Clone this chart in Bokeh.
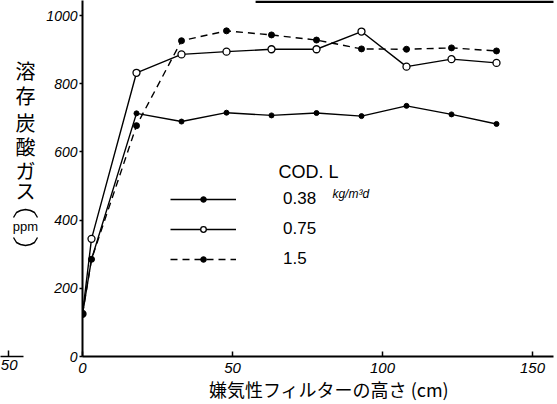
from bokeh.plotting import figure
from bokeh.layouts import row
from bokeh.models import Range1d, Legend, LegendItem, Label, FixedTicker, BoxAnnotation
from bokeh.core.properties import value
from bokeh.embed import file_html
from bokeh.resources import INLINE

# Data (height of anaerobic filter in cm, dissolved CO2 in ppm)
heights = [0, 3, 18, 33, 48, 63, 78, 93, 108, 123, 138]
cod_038 = [125, 285, 713, 689, 715, 707, 714, 705, 735, 710, 682]
cod_075 = [125, 345, 832, 886, 894, 901, 901, 953, 850, 872, 861]
cod_15 = [125, 285, 677, 926, 955, 943, 928, 902, 901, 905, 896]
series_labels = ["0.38", "0.75", "1.5"]
x_ticks = [0, 50, 100, 150]
y_ticks = [0, 200, 400, 600, 800, 1000]
y_title_chars = ["溶", "存", "炭", "酸", "ガ", "ス"]
y_title_unit = "ppm"

TICK_FONT = "Liberation Sans"
CJK_FONT = "Noto Sans CJK JP"

# ---- narrow left panel: stacked y-axis title and the edge of the neighbouring chart
side = figure(width=42, height=404, output_backend="svg", toolbar_location=None,
              x_range=Range1d(0, 42), y_range=Range1d(356, 0), y_axis_type=None,
              min_border_left=0, min_border_right=0, min_border_top=0, min_border_bottom=48)
side.outline_line_color = None
side.grid.visible = False
side.background_fill_color = "white"
side.border_fill_color = "white"
sax = side.xaxis[0]
sax.ticker = FixedTicker(ticks=[8])
sax.major_label_overrides = {8: "50"}
sax.bounds = (0, 23)
sax.axis_line_width = 1.5
sax.axis_line_color = "black"
sax.major_tick_in = 6
sax.major_tick_out = 0
sax.major_tick_line_width = 1.5
sax.minor_tick_line_color = None
sax.major_label_standoff = 3
sax.major_label_text_font = TICK_FONT
sax.major_label_text_font_style = "italic"
sax.major_label_text_font_size = "15px"
sax.major_label_text_color = "black"

title_y = [70, 95, 122, 146, 170, 190]
side.text(x=[25] * len(y_title_chars), y=title_y, text=y_title_chars,
          text_font=value(CJK_FONT), text_font_size=value("20px"),
          text_align="center", text_baseline="middle", text_color="black")
side.text(x=[25], y=[226], text=[y_title_unit],
          text_font=value(TICK_FONT), text_font_size=value("13px"),
          text_align="center", text_baseline="middle", text_color="black")
# vertical-writing brackets drawn as arcs above and below "ppm"
side.line(x=[13, 16, 20, 25, 30, 34, 37], y=[217, 212, 210, 209, 210, 212, 217],
          line_color="black", line_width=1.4)
side.line(x=[13, 16, 20, 25, 30, 34, 37], y=[237, 242, 244, 245, 244, 242, 237],
          line_color="black", line_width=1.4)

# ---- main chart
p = figure(width=515, height=404, output_backend="svg", toolbar_location=None,
           x_range=Range1d(0, 157), y_range=Range1d(0, 1044),
           min_border_left=40, min_border_right=4, min_border_top=0, min_border_bottom=48)
p.outline_line_color = None
p.grid.visible = False
p.background_fill_color = "white"
p.border_fill_color = "white"

for ax in (p.xaxis[0], p.yaxis[0]):
    ax.axis_line_width = 2
    ax.axis_line_color = "black"
    ax.major_tick_line_color = "black"
    ax.major_tick_line_width = 1.5
    ax.minor_tick_line_color = None
    ax.major_label_text_font = TICK_FONT
    ax.major_label_text_font_style = "italic"
    ax.major_label_text_font_size = "14px"
    ax.major_label_text_color = "black"

p.xaxis.ticker = FixedTicker(ticks=x_ticks)
p.yaxis.ticker = FixedTicker(ticks=y_ticks)
p.xaxis.major_label_text_font_size = "15px"
p.xaxis.major_tick_in = 5
p.xaxis.major_tick_out = 0
p.yaxis.major_tick_in = 0
p.yaxis.major_tick_out = 3
p.xaxis.major_label_standoff = 6
p.yaxis.major_label_standoff = 2

p.xaxis.axis_label = "\u3000 嫌気性フィルターの高さ (cm)"
p.xaxis.axis_label_text_font = CJK_FONT
p.xaxis.axis_label_text_font_style = "normal"
p.xaxis.axis_label_text_font_size = "18px"
p.xaxis.axis_label_standoff = 0
p.xaxis.axis_label_text_color = "black"

r1l = p.line(heights, cod_038, line_color="black", line_width=1.4)
r1m = p.scatter(heights, cod_038, size=5, marker="circle", fill_color="black", line_color="black")
r2l = p.line(heights, cod_075, line_color="black", line_width=1.4)
r2m = p.scatter(heights, cod_075, size=7, marker="circle", fill_color="white", line_color="black", line_width=1.3)
r3l = p.line(heights, cod_15, line_color="black", line_width=1.4, line_dash="7 5")
r3m = p.scatter(heights, cod_15, size=6, marker="circle", fill_color="black", line_color="black")

legend = Legend(items=[
    LegendItem(label=series_labels[0], renderers=[r1l, r1m]),
    LegendItem(label=series_labels[1], renderers=[r2l, r2m]),
    LegendItem(label=series_labels[2], renderers=[r3l, r3m]),
], location=(88, 82), orientation="vertical",
    glyph_width=66, glyph_height=14, label_height=30, label_standoff=47,
    spacing=0, padding=0, margin=0,
    border_line_alpha=0, background_fill_alpha=0,
    label_text_font=TICK_FONT, label_text_font_size="17px", label_text_color="black")
p.add_layout(legend, "center")

p.add_layout(Label(x=65.3, y=540, text="COD. L", text_font=TICK_FONT,
                   text_font_size="18px", text_baseline="middle", text_color="black"))
p.add_layout(Label(x=83.3, y=478, text="kg/m³d", text_font=TICK_FONT,
                   text_font_size="12px", text_baseline="middle", text_color="black",
                   text_font_style="italic"))

# Scan border at the top edge
p.add_layout(BoxAnnotation(left=57.7, right=158.3, bottom=1037, top=1044,
                           fill_color="black", fill_alpha=1, line_alpha=0))

layout = row(side, p, spacing=0)
open("out.html", "w").write(file_html(layout, INLINE))
